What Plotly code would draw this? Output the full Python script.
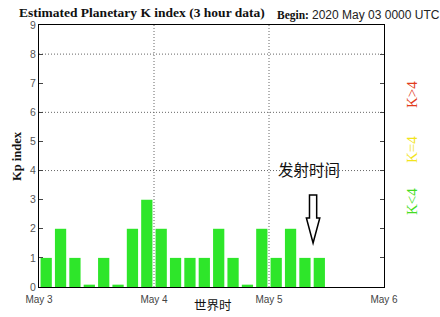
import plotly.graph_objects as go

# ---- data ----
kp_values = [1, 2, 1, 0, 1, 0, 2, 3,
             2, 1, 1, 1, 2, 1, 0, 2,
             1, 2, 1, 1]
hours_per_bar = 3
day_ticks_hours = [0, 24, 48, 72]
day_labels = ["May 3", "May 4", "May 5", "May 6"]
y_ticks = list(range(0, 10))
h_grid_levels = [4, 6, 8]
v_grid_hours = [24, 48]
launch_hour = 57.2

bar_x = [hours_per_bar * i + hours_per_bar / 2 for i in range(len(kp_values))]
stub = 0.08
bar_y = [v if v > 0 else stub for v in kp_values]

W, H = 440, 317
ML, MR, MT, MB = 39, 56, 25, 30
pw = W - ML - MR
ph = H - MT - MB


def px(xp):
    return (xp - ML) / pw


def py(yp):
    return 1 - (yp - MT) / ph


fig = go.Figure()
fig.add_trace(go.Bar(
    x=bar_x, y=bar_y, width=2.35,
    marker=dict(color="#2ee62a", line=dict(width=0)),
    hoverinfo="skip",
))

grid_line = dict(color="#666", width=1, dash="1px,2px")
shapes = []
for lv in h_grid_levels:
    shapes.append(dict(type="line", xref="x", yref="y", x0=0, x1=72, y0=lv, y1=lv,
                       line=grid_line, layer="below"))
for hv in v_grid_hours:
    shapes.append(dict(type="line", xref="x", yref="y", x0=hv, x1=hv, y0=0, y1=9,
                       line=grid_line, layer="below"))

# hollow down arrow marking launch time
top, neck, tip = 3.16, 2.37, 1.51
sw, hw = 0.75, 1.4
cx = launch_hour
path = (f"M {cx-sw},{top} L {cx+sw},{top} L {cx+sw},{neck} L {cx+hw},{neck} "
        f"L {cx},{tip} L {cx-hw},{neck} L {cx-sw},{neck} Z")
shapes.append(dict(type="path", xref="x", yref="y", path=path,
                   line=dict(color="black", width=1.5), fillcolor="white"))

annotations = [
    dict(text="<b>Estimated Planetary K index (3 hour data)</b>", x=px(17), y=py(13),
         xanchor="left", yanchor="middle",
         font=dict(family="Liberation Serif", size=13.5, color="#111")),
    dict(text="<b>Begin:</b>", x=px(275), y=py(15), xanchor="left", yanchor="middle",
         font=dict(family="Liberation Serif", size=11.5, color="#111")),
    dict(text="2020 May 03 0000 UTC", x=px(310), y=py(15), xanchor="left", yanchor="middle",
         font=dict(family="Liberation Sans", size=12, color="#222")),
    dict(text="<b>Kp index</b>", x=px(17), y=py(156), textangle=-90,
         xanchor="center", yanchor="middle",
         font=dict(family="Liberation Serif", size=12.5, color="#111")),
    dict(text="世界时", x=px(213), y=py(304), xanchor="center", yanchor="middle",
         font=dict(family="Noto Sans CJK SC", size=12.5, color="#111")),
    dict(text="发射时间", x=px(309), y=py(169), xanchor="center", yanchor="middle",
         font=dict(family="Noto Sans CJK SC", size=15.5, color="#111")),
    dict(text="K>4", x=px(412), y=py(95), textangle=-90, xanchor="center", yanchor="middle",
         font=dict(family="Liberation Serif", size=15, color="#e23c1c")),
    dict(text="K=4", x=px(412), y=py(150), textangle=-90, xanchor="center", yanchor="middle",
         font=dict(family="Liberation Serif", size=15, color="#f2e41c")),
    dict(text="K<4", x=px(412), y=py(202), textangle=-90, xanchor="center", yanchor="middle",
         font=dict(family="Liberation Serif", size=15, color="#44dd22")),
]
for a in annotations:
    a.update(xref="paper", yref="paper", showarrow=False)

fig.update_layout(
    width=W, height=H,
    margin=dict(l=ML, r=MR, t=MT, b=MB, pad=0),
    paper_bgcolor="white", plot_bgcolor="white",
    showlegend=False,
    shapes=shapes, annotations=annotations,
    xaxis=dict(range=[0, 72], tickvals=day_ticks_hours, ticktext=day_labels,
               showgrid=False, zeroline=False, showline=True, linecolor="black",
               linewidth=1, mirror=True, ticks="", ticklen=0, ticklabelstandoff=3,
               tickfont=dict(family="Liberation Sans", size=10, color="#444")),
    yaxis=dict(range=[0, 9], tickvals=y_ticks, showgrid=False, zeroline=False,
               showline=True, linecolor="black", linewidth=1, mirror="ticks",
               ticks="inside", ticklen=4, tickcolor="#444",
               tickfont=dict(family="Liberation Sans", size=10.5, color="#555")),
)

fig.write_html("out.html")
